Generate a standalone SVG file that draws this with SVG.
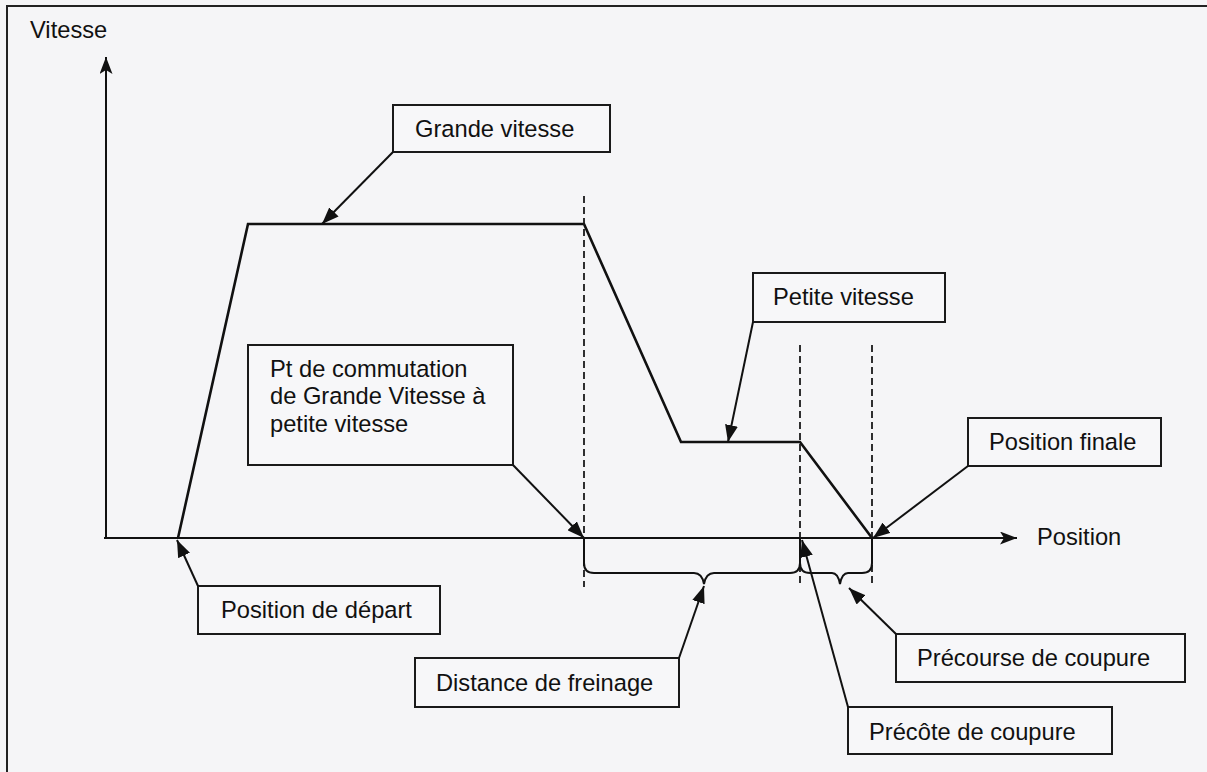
<svg xmlns="http://www.w3.org/2000/svg" width="1207" height="772" viewBox="0 0 1207 772">
  <style>
    .bg { fill: #f5f5f7; }
    .frame { fill: none; stroke: #222; stroke-width: 2; }
    .axis { fill: none; stroke: #111; stroke-width: 2; }
    .profile { fill: none; stroke: #111; stroke-width: 2.6; stroke-linejoin: miter; }
    .dash { fill: none; stroke: #1a1a1a; stroke-width: 1.8; stroke-dasharray: 7 4; }
    .brace { fill: none; stroke: #111; stroke-width: 2; }
    .box { fill: #f7f7f9; stroke: #1a1a1a; stroke-width: 2; }
    .lbl { font-family: "Liberation Sans", Arial, sans-serif; font-size: 23.7px; fill: #111; }
    .conn { fill: none; stroke: #111; stroke-width: 2; }
  </style>
  <defs>
    <marker id="ax" markerUnits="userSpaceOnUse" markerWidth="18" markerHeight="13" refX="17" refY="6.5" orient="auto">
      <path d="M0,0 L17,6.5 L0,13 L4,6.5 z" fill="#111"/>
    </marker>
    <marker id="ah" markerUnits="userSpaceOnUse" markerWidth="18" markerHeight="13" refX="17" refY="6.5" orient="auto">
      <path d="M0,0 L17,6.5 L0,13 z" fill="#111"/>
    </marker>
  </defs>

  <rect class="bg" x="0" y="0" width="1207" height="772"/>
  <path class="frame" d="M7,772 L7,6 L1207,6"/>

  <g id="axes">
    <path class="axis" d="M106,538 L106,57" marker-end="url(#ax)"/>
    <path class="axis" d="M104,538 L1017,538" marker-end="url(#ax)"/>
    <text class="lbl" x="30" y="38">Vitesse</text>
    <text class="lbl" x="1037" y="545">Position</text>
  </g>

  <g id="profile">
    <path class="profile" d="M178,538 L248,224 L584,224 L681,442 L800,442 L872,538"/>
  </g>

  <g id="guides">
    <path class="dash" d="M584,196 L584,587"/>
    <path class="dash" d="M800,345 L800,587"/>
    <path class="dash" d="M872,345 L872,587"/>
  </g>

  <g id="braces">
    <path class="brace" d="M584,538 L584,563 Q584,573 594,573 L694,573 Q702,573 704,584 Q706,573 714,573 L790,573 Q800,573 800,563 L800,538"/>
    <path class="brace" d="M800,563 Q800,573 810,573 L832,573 Q838,573 840,584 Q842,573 848,573 L862,573 Q872,573 872,563 L872,538"/>
  </g>

  <g id="node-grande-vitesse">
    <rect class="box" x="393" y="105" width="217" height="47"/>
    <text class="lbl" x="415" y="137">Grande vitesse</text>
  </g>

  <g id="node-commutation">
    <rect class="box" x="248" y="345" width="265" height="120"/>
    <text class="lbl" x="270" y="377">Pt de commutation</text>
    <text class="lbl" x="270" y="404">de Grande Vitesse à</text>
    <text class="lbl" x="270" y="432">petite vitesse</text>
  </g>

  <g id="node-petite-vitesse">
    <rect class="box" x="753" y="273" width="192" height="49"/>
    <text class="lbl" x="773" y="305">Petite vitesse</text>
  </g>

  <g id="node-position-finale">
    <rect class="box" x="968" y="418" width="193" height="48"/>
    <text class="lbl" x="989" y="450">Position finale</text>
  </g>

  <g id="node-position-depart">
    <rect class="box" x="198" y="586" width="242" height="48"/>
    <text class="lbl" x="221" y="618">Position de départ</text>
  </g>

  <g id="node-distance-freinage">
    <rect class="box" x="415" y="658" width="264" height="49"/>
    <text class="lbl" x="436" y="691">Distance de freinage</text>
  </g>

  <g id="node-precourse">
    <rect class="box" x="896" y="634" width="289" height="48"/>
    <text class="lbl" x="917" y="666">Précourse de coupure</text>
  </g>

  <g id="node-precote">
    <rect class="box" x="848" y="707" width="264" height="47"/>
    <text class="lbl" x="869" y="740">Précôte de coupure</text>
  </g>

  <g id="connectors">
    <path class="conn" d="M393,152 L322,224" marker-end="url(#ah)"/>
    <path class="conn" d="M513,465 L584,538" marker-end="url(#ah)"/>
    <path class="conn" d="M753,322 L728,442" marker-end="url(#ah)"/>
    <path class="conn" d="M968,466 L873,538" marker-end="url(#ah)"/>
    <path class="conn" d="M198,586 L177,540" marker-end="url(#ah)"/>
    <path class="conn" d="M679,658 L704,586" marker-end="url(#ah)"/>
    <path class="conn" d="M848,707 L802,540" marker-end="url(#ah)"/>
    <path class="conn" d="M896,634 L849,588" marker-end="url(#ah)"/>
  </g>
</svg>
